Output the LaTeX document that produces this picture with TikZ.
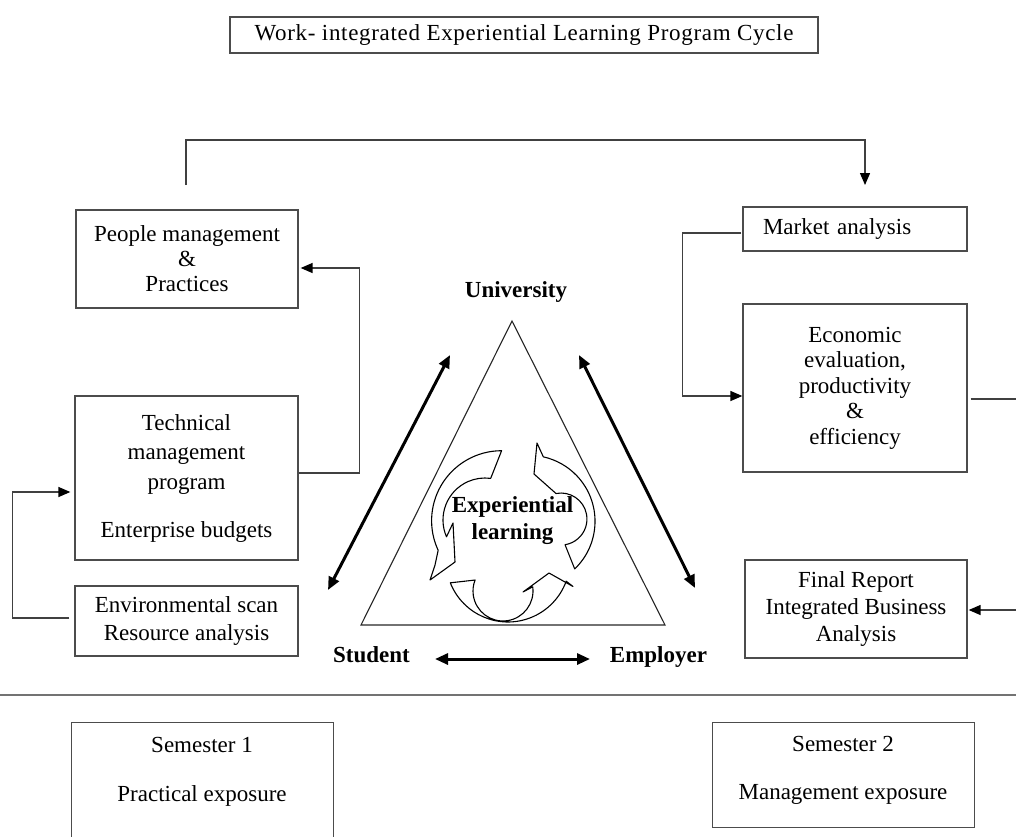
\documentclass[tikz,border=0pt]{standalone}
\usepackage{fontspec}
\setmainfont{Liberation Serif}
\usetikzlibrary{arrows.meta,calc}
\begin{document}
\begin{tikzpicture}[x=1pt,y=1pt,
  bx/.style={draw=black!70, line width=1.3pt, rectangle, inner sep=0pt, align=center, font=\fontsize{23}{25}\selectfont},
  txt/.style={inner sep=0pt, align=center, font=\fontsize{23}{25}\selectfont},
  conn/.style={draw=black!75, line width=1.4pt},
  endarrow/.style={-{Triangle[length=12pt,width=10pt,color=black]}},
  dbl/.style={line width=3pt, {Triangle[length=13pt,width=11pt]}-{Triangle[length=13pt,width=11pt]}},
  lbl/.style={font=\fontsize{23}{27}\selectfont\bfseries, inner sep=0pt},
  cyc/.style={draw=black, line width=1.1pt, line join=round},
]
\useasboundingbox (0,0) rectangle (1016,-836);

% title
\node[bx, minimum width=588pt, minimum height=36pt, font=\fontsize{23}{25}\selectfont\addfontfeature{LetterSpace=3}] (title) at (524,-35) {Work- integrated Experiential Learning Program Cycle};

% left boxes
\node[bx, minimum width=222pt, minimum height=98pt] (people) at (187,-259) {People management\\\&\\Practices};
\node[bx, minimum width=223pt, minimum height=164pt, font=\fontsize{23}{29.5}\selectfont] (tech) at (186.5,-478) {Technical\\management\\program\\[18.5pt]Enterprise budgets};
\node[bx, minimum width=223pt, minimum height=70pt, font=\fontsize{23}{28}\selectfont] (env) at (186.5,-621) {Environmental scan\\Resource analysis};

% right boxes
\node[bx, minimum width=224pt, minimum height=44pt, text width=184pt, align=left, inner xsep=20pt] (market) at (855,-229) {Market analysis};
\node[bx, minimum width=224pt, minimum height=168pt, font=\fontsize{23}{25.5}\selectfont] (econ) at (855,-388) {Economic\\evaluation,\\productivity\\\&\\efficiency};
\node[bx, minimum width=222pt, minimum height=98pt, font=\fontsize{23}{27}\selectfont] (final) at (856,-609) {Final Report\\Integrated Business\\Analysis};

% semester boxes
\node[bx, minimum width=262pt, minimum height=140pt, anchor=north west] (sem1) at (71,-722) {};
\node[txt, anchor=north] (sem1t) at (202,-737.5) {Semester 1\\[24pt]Practical exposure};
\node[bx, minimum width=262pt, minimum height=105pt, anchor=north west] (sem2) at (712,-722) {};
\node[txt, anchor=north] (sem2t) at (843,-736.5) {Semester 2\\[23pt]Management exposure};

% connectors
\coordinate (topL) at (186,-185);
\coordinate (topR) at (865,-185);
\draw[conn, endarrow] (topL) |- (865,-140) -- (topR);
\draw[conn, endarrow] ([yshift=5pt]tech.east) -| ([xshift=61pt,yshift=-9pt]people.east) -- ([xshift=2pt,yshift=-9pt]people.east);
\draw[conn, endarrow] ([xshift=-5pt,yshift=3pt]env.west) -| ([xshift=-62pt,yshift=-14pt]tech.west) -- ([xshift=-4pt,yshift=-14pt]tech.west);
\draw[conn, endarrow] ([xshift=-1pt,yshift=-4pt]market.west) -| ([xshift=-60pt,yshift=-8pt]econ.west) -- ([yshift=-8pt]econ.west);
\coordinate (econR) at (1016,-399);
\draw[conn] ([xshift=3pt,yshift=-11pt]econ.east) -- (econR);
\coordinate (finR) at (1016,-610);
\draw[conn, endarrow] (finR) -- ([xshift=1pt,yshift=-1pt]final.east);

% separator
\coordinate (sepL) at (0,-695);
\coordinate (sepR) at (1016,-695);
\draw[draw=black!55, line width=1.5pt] (sepL) -- (sepR);

% triangle
\coordinate (tA) at (512,-321);
\coordinate (tB) at (361,-625);
\coordinate (tC) at (665,-625);
\draw[black!85, line width=1.1pt, line join=miter] (tA) -- (tB) -- (tC) -- cycle;

% labels
\node[lbl, anchor=base] (univ) at (516,-297) {University};
\node[lbl, anchor=base] (stud) at (371.5,-662) {Student};
\node[lbl, anchor=base] (empl) at (658.5,-662) {Employer};

% double arrows
\coordinate (uL) at (450,-355);
\coordinate (sL) at (328,-590);
\coordinate (uR) at (579,-355);
\coordinate (eR) at (695,-588);
\coordinate (sB) at (435,-659);
\coordinate (eB) at (590,-659);
\draw[dbl] (sL) -- (uL);
\draw[dbl] (uR) -- (eR);
\draw[dbl] (sB) -- (eB);

% circular arrows
\draw[cyc] (501.6,-450.7) arc[start angle=90, end angle=205, radius=70] -- (435,-565) -- (430,-580) -- (455,-562) -- (453,-523) -- (446.5,-536.8) arc[start angle=203.6, end angle=82.2, radius=42] -- cycle;
\draw[cyc] (574.7,-568.9) arc[start angle=-46.2, end angle=77.5, radius=66] -- (537,-443) -- (534,-474) -- (556,-493.5) arc[start angle=101, end angle=-81, radius=26] -- cycle;
\draw[cyc] (450.3,-582.8) arc[start angle=201.6, end angle=340, radius=62] -- (573,-586.5) -- (549,-573) -- (523,-592) -- (532.7,-586.8) arc[start angle=8, end angle=-201.4, radius=30] -- cycle;

\node[lbl, align=center] (exp) at (512.5,-521) {Experiential\\learning};
\end{tikzpicture}
\end{document}
